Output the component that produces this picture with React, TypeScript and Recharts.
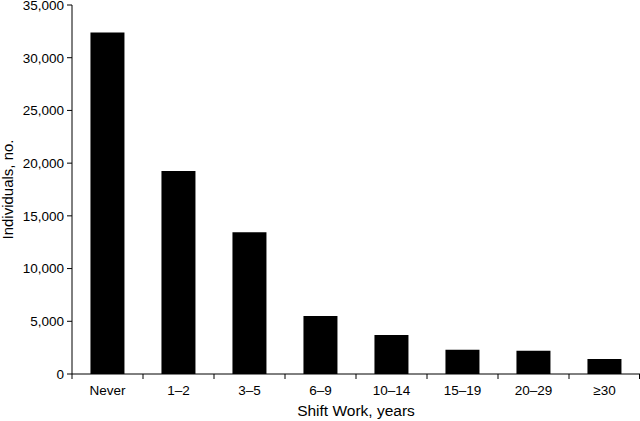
import React from 'react';
import { BarChart, Bar, XAxis, YAxis } from 'recharts';

const categories = ['Never', '1–2', '3–5', '6–9', '10–14', '15–19', '20–29', '≥30'];
const individuals = [32400, 19250, 13450, 5500, 3700, 2300, 2200, 1420];
const yTicks = [0, 5000, 10000, 15000, 20000, 25000, 30000, 35000];

const data = categories.map((name, i) => ({ name, value: individuals[i] }));

const W = 640;
const H = 421;
const Y_AXIS_W = 72;
const X_AXIS_H = 47;
const FONT = '"Liberation Sans", Arial, sans-serif';
const BAND = (W - Y_AXIS_W) / categories.length;

const XTick = (props: any) => {
  const { x, y, payload, index } = props;
  const left = x - BAND / 2;
  const right = x + BAND / 2;
  return (
    <g>
      <line x1={left} y1={y} x2={left} y2={y + 5} stroke="#000" />
      {index === categories.length - 1 && (
        <line x1={right - 0.5} y1={y} x2={right - 0.5} y2={y + 5} stroke="#000" />
      )}
      <text x={x} y={y + 21} textAnchor="middle" fontSize={13.5} fill="#000" fontFamily={FONT}>
        {payload.value}
      </text>
    </g>
  );
};

const App: React.FC = () => {
  return (
    <div style={{ position: 'absolute', left: 0, top: 0, width: W, height: H, background: '#fff' }}>
      <BarChart
        width={W}
        height={H}
        data={data}
        margin={{ top: 5, right: 0, left: 0, bottom: 0 }}
        barCategoryGap="26%"
      >
        <XAxis
          dataKey="name"
          height={X_AXIS_H}
          axisLine={{ stroke: '#000' }}
          tickLine={false}
          tickSize={0}
          tickMargin={0}
          interval={0}
          tick={<XTick />}
          label={{
            value: 'Shift Work, years',
            position: 'insideBottom',
            offset: 5,
            style: { fontSize: 15.5, fill: '#000', fontFamily: FONT },
          }}
        />
        <YAxis
          width={Y_AXIS_W}
          domain={[0, 35000]}
          ticks={yTicks}
          interval={0}
          axisLine={{ stroke: '#000' }}
          tickLine={{ stroke: '#000' }}
          tickSize={5}
          tickMargin={3}
          tick={{ fontSize: 13.5, fill: '#000', fontFamily: FONT }}
          tickFormatter={(v: number) => v.toLocaleString('en-US')}
          label={{
            value: 'Individuals, no.',
            angle: -90,
            position: 'insideLeft',
            offset: 8,
            style: { fontSize: 15, fill: '#000', fontFamily: FONT, textAnchor: 'middle' },
          }}
        />
        <Bar dataKey="value" fill="#000" isAnimationActive={false} />
      </BarChart>
    </div>
  );
};

export default App;
